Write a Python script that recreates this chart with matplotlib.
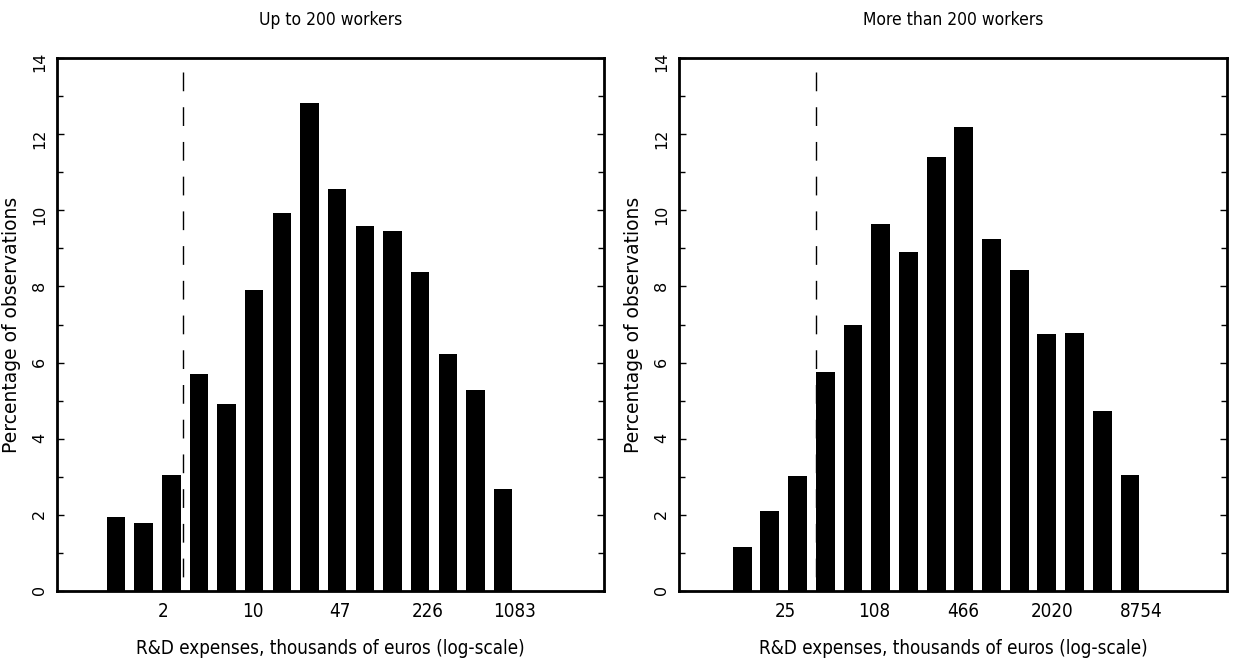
import numpy as np
import matplotlib.pyplot as plt
from matplotlib import font_manager

# bar centres in thousands of euros, heights in %
small_centres = [0.86, 1.41, 2.32, 3.80, 6.23, 10.2, 16.8, 27.5, 45.1, 73.9,
                 121, 199, 326, 534, 876]
small_pct = [1.94, 1.78, 3.05, 5.70, 4.91, 7.91, 9.93, 12.81, 10.55, 9.59,
             9.45, 8.38, 6.23, 5.27, 2.67]
small_ticks = [2, 10, 47, 226, 1083]
small_cut = 2.86

large_centres = [12.3, 19.4, 30.6, 48.3, 76.1, 120, 189, 298, 470, 741,
                 1168, 1842, 2904, 4579, 7220]
large_pct = [1.16, 2.10, 3.03, 5.75, 6.99, 9.64, 8.90, 11.40, 12.20, 9.25,
             8.42, 6.74, 6.78, 4.73, 3.05]
large_ticks = [25, 108, 466, 2020, 8754]
large_cut = 41.7

titles = ['Up to 200 workers', 'More than 200 workers']
xlab = 'R&D expenses, thousands of euros (log-scale)'
ylab = 'Percentage of observations'

# look for a regular (not bold/italic) condensed face
cond = [f for f in font_manager.fontManager.ttflist
        if ('Condensed' in f.fname or 'Narrow' in f.fname)
        and f.weight in (400, 'normal', 'regular') and f.style == 'normal'
        and 'Mono' not in f.fname and 'Serif' not in f.fname]
cond_file = cond[0].fname if cond else None


def narrow(size):
    if cond_file:
        return font_manager.FontProperties(fname=cond_file, size=size)
    return font_manager.FontProperties(family='DejaVu Sans', size=size)


fig = plt.figure(figsize=(12.33, 6.67), dpi=100)
ax1 = fig.add_axes([0.0462, 0.1139, 0.4437, 0.7991])
ax2 = fig.add_axes([0.5507, 0.1139, 0.4444, 0.7991])

panels = [
    (ax1, small_centres, small_pct, small_ticks, small_cut, 2.13, 3.65, 0.33),
    (ax2, large_centres, large_pct, large_ticks, large_cut, 2.28, 3.5, 0.31),
]

for i, (ax, cen, pct, ticks, cut, pl, pr, w) in enumerate(panels):
    x = np.log(cen)
    step = x[1] - x[0]
    ax.plot([np.log(cut), np.log(cut)], [13.63, 0], color='black', lw=1,
            ls=(0, (13.5, 11.5)), zorder=1)
    ax.bar(x, pct, width=w, color='black', zorder=2)
    ax.set_xlim(x[0] - step * pl, x[-1] + step * pr)
    ax.set_ylim(0, 14)
    ax.set_xticks(np.log(ticks))
    ax.set_xticklabels([str(t) for t in ticks])
    for t in ax.get_xticklabels():
        t.set_fontproperties(narrow(13.5))
    ax.tick_params(axis='x', length=0, pad=8)
    ax.set_yticks(np.arange(0, 15, 2))
    ax.set_yticks(np.arange(1, 14, 2), minor=True)
    ax.tick_params(axis='y', which='both', direction='in', right=True,
                   width=1, labelrotation=90, labelsize=11.5, pad=7)
    ax.tick_params(axis='y', which='major', length=5)
    ax.tick_params(axis='y', which='minor', length=4)
    for s in ax.spines.values():
        s.set_linewidth(2)
    ax.set_title(titles[i], fontproperties=narrow(12.5), pad=24)
    ax.set_xlabel(xlab, fontproperties=narrow(13.5), labelpad=13)
    ax.set_ylabel(ylab, fontsize=13.5, labelpad=8)

plt.savefig('out.png', dpi=100)
